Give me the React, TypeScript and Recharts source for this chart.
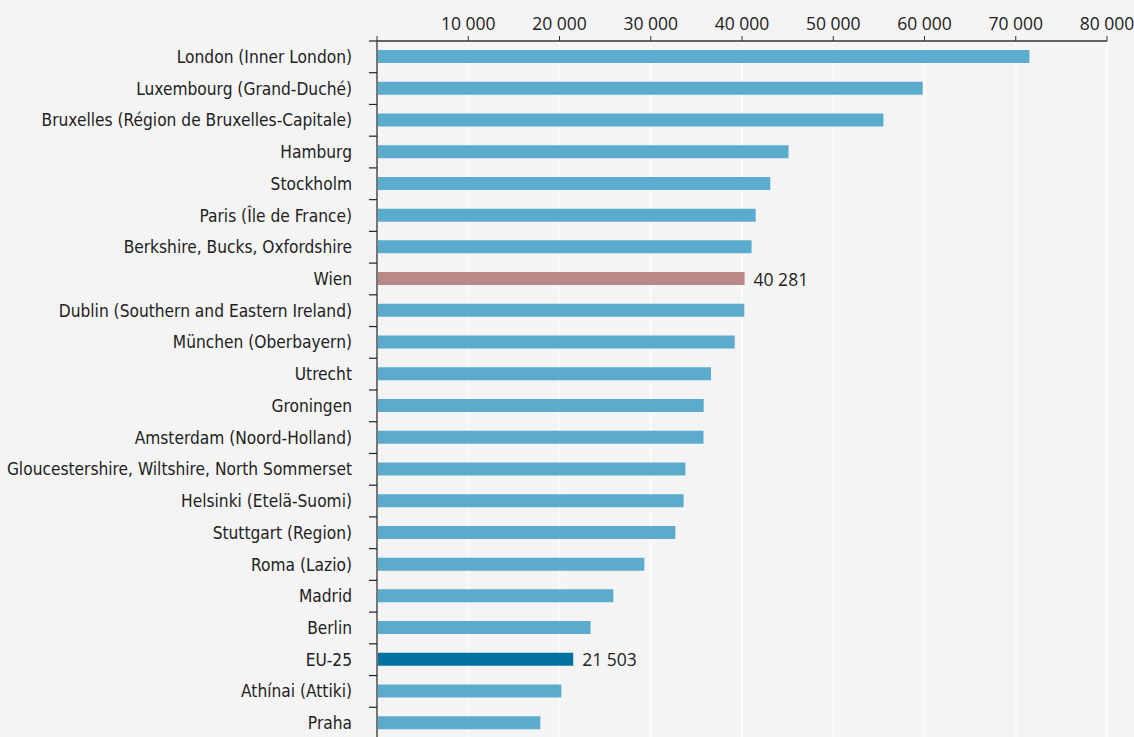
import { Bar, BarChart, CartesianGrid, Cell, LabelList, XAxis, YAxis } from "recharts";

const categories = [
  "London (Inner London)",
  "Luxembourg (Grand-Duché)",
  "Bruxelles (Région de Bruxelles-Capitale)",
  "Hamburg",
  "Stockholm",
  "Paris (Île de France)",
  "Berkshire, Bucks, Oxfordshire",
  "Wien",
  "Dublin (Southern and Eastern Ireland)",
  "München (Oberbayern)",
  "Utrecht",
  "Groningen",
  "Amsterdam (Noord-Holland)",
  "Gloucestershire, Wiltshire, North Sommerset",
  "Helsinki (Etelä-Suomi)",
  "Stuttgart (Region)",
  "Roma (Lazio)",
  "Madrid",
  "Berlin",
  "EU-25",
  "Athínai (Attiki)",
  "Praha",
];

const values = [
  71500, 59800, 55500, 45100, 43100, 41500, 41050, 40281, 40250, 39200, 36600,
  35800, 35780, 33800, 33600, 32700, 29300, 25900, 23400, 21503, 20200, 17900,
];

const xTicks = [0, 10000, 20000, 30000, 40000, 50000, 60000, 70000, 80000];

const labelled = ["Wien", "EU-25"];

const colors: Record<string, string> = {
  Wien: "#b88987",
  "EU-25": "#0073a1",
};
const defaultColor = "#5aabcd";

const data = categories.map((name, i) => ({ name, value: values[i] }));

const fmt = (v: number) => (v === 0 ? "" : String(v).replace(/\B(?=(\d{3})+(?!\d))/g, " "));

const TOP = 41;
const PLOT_H = 698;
const BAND = PLOT_H / categories.length;
const AXIS_X = 377;

function CategoryTick(props: any) {
  const { y, payload } = props;
  const top = y - BAND / 2;
  return (
    <g>
      <line x1={AXIS_X - 8} x2={AXIS_X} y1={top} y2={top} stroke="#222" strokeWidth={1.2} />
      <text
        x={352}
        y={y}
        textAnchor="end"
        dominantBaseline="central"
        fontFamily="'DejaVu Sans Condensed', 'DejaVu Sans', sans-serif"
        fontSize={17.2}
        fill="#222"
      >
        {payload.value}
      </text>
    </g>
  );
}

function ValueLabel(props: any) {
  const { x, y, width, height, value, index } = props;
  if (!labelled.includes(categories[index])) return null;
  return (
    <text
      x={x + width + 9}
      y={y + height / 2}
      dominantBaseline="central"
      fontFamily="'Open Sans', sans-serif"
      fontSize={17.5}
      fill="#222"
    >
      {fmt(value)}
    </text>
  );
}

export default function App() {
  return (
    <div
      style={{
        position: "absolute",
        left: 0,
        top: 0,
        width: 1134,
        height: 737,
        overflow: "hidden",
        background: "#f4f4f4",
      }}
    >
      <BarChart
        width={1134}
        height={TOP + PLOT_H + 21}
        data={data}
        layout="vertical"
        margin={{ top: 0, right: 27, bottom: 21, left: 0 }}
      >
        <CartesianGrid horizontal={false} vertical stroke="#fbfbfb" strokeWidth={2} />
        <XAxis
          type="number"
          orientation="top"
          domain={[0, 80000]}
          ticks={xTicks}
          tickFormatter={fmt}
          height={TOP}
          axisLine={{ stroke: "#333", strokeWidth: 1.5 }}
          tickLine={{ stroke: "#333" }}
          tickSize={5}
          tickMargin={6}
          tick={{ fontFamily: "'Open Sans', sans-serif", fontSize: 17.5, fill: "#222" }}
        />
        <YAxis
          type="category"
          dataKey="name"
          width={AXIS_X}
          axisLine={{ stroke: "#777", strokeWidth: 2 }}
          tickLine={false}
          tick={<CategoryTick />}
          interval={0}
        />
        <Bar dataKey="value" barSize={13} isAnimationActive={false}>
          {data.map((d) => (
            <Cell key={d.name} fill={colors[d.name] ?? defaultColor} />
          ))}
          <LabelList dataKey="value" content={<ValueLabel />} />
        </Bar>
      </BarChart>
    </div>
  );
}
